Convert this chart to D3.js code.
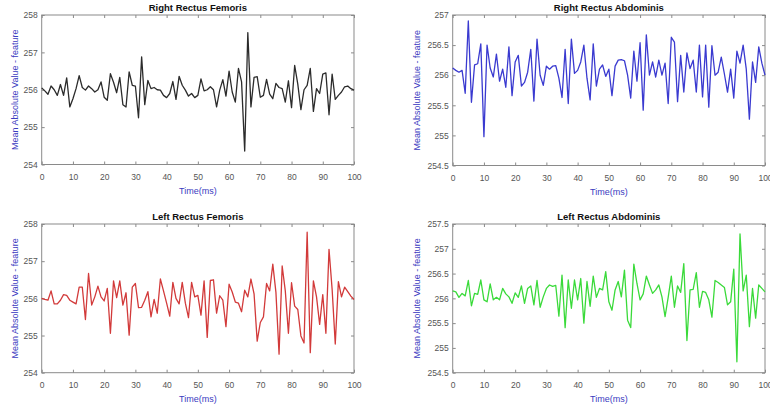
<!DOCTYPE html>
<html>
<head>
<meta charset="utf-8">
<script src="https://cdn.jsdelivr.net/npm/d3@7"></script>
<style>
    body { margin: 0; background: #fff; }
    svg { display: block; font-family: "Liberation Sans", Arial, sans-serif; }
    .axis path { display: none; }
    .axis line { stroke: #8a8a8a; }
    .axis text { fill: #555; font-size: 8.5px; }
</style>
</head>
<body>
<svg id="chart" width="770" height="409"></svg>
<script>

// x axis (time in ms), one sample per ms
const xTicks = [0, 10, 20, 30, 40, 50, 60, 70, 80, 90, 100];

// tick labels for the y axes
const yTicksFemoris = [254, 255, 256, 257, 258];
const yTicksRightAbd = [254.5, 255, 255.5, 256, 256.5, 257];
const yTicksLeftAbd = [254.5, 255, 255.5, 256, 256.5, 257, 257.5];

// series values (t = 0..100)
const rightFemoris = [
    256.05, 255.97, 255.88, 256.1, 256.0, 255.85, 256.14, 255.85, 256.32, 255.54,
    255.76, 256.03, 256.38, 256.06, 255.99, 256.1, 256.03, 255.94, 256.0, 256.21,
    255.8, 255.72, 256.43, 256.2, 255.92, 256.33, 255.6, 255.54, 256.48, 256.12,
    256.1, 255.25, 256.88, 255.6, 256.25, 256.03, 256.06, 256.0, 255.99, 255.85,
    255.79, 255.9, 256.22, 255.74, 256.36, 256.12, 255.99, 255.83, 255.9, 255.79,
    255.85, 256.29, 255.97, 256.0, 256.08, 256.0, 255.54, 255.99, 256.27, 255.83,
    256.5, 255.94, 255.67, 256.57, 256.21, 254.36, 257.53, 255.54, 256.33, 256.35,
    255.8, 255.85, 256.28, 255.88, 255.76, 256.17, 256.06, 256.03, 255.67, 256.24,
    255.52, 256.65, 256.15, 255.47, 256.0, 256.12, 256.57, 255.42, 256.03, 255.9,
    256.42, 256.45, 255.33, 256.42, 255.74, 255.85, 255.94, 256.08, 256.1, 256.03,
    255.99
];

const rightAbdominis = [
    256.12, 256.08, 256.05, 256.08, 255.7, 256.9, 255.55, 256.17, 256.19, 256.52,
    254.98, 256.5, 256.12, 255.97, 256.35, 255.9, 256.1, 255.8, 256.47, 255.66,
    256.22, 256.33, 255.82, 255.88, 256.05, 256.43, 255.57, 256.6, 256.0, 255.83,
    256.15, 256.1, 256.15, 256.16, 255.95, 255.63, 256.43, 255.53, 256.6, 256.03,
    256.08, 256.22, 256.5, 255.95, 255.59, 256.52, 255.82, 256.1, 256.17, 255.98,
    256.1, 255.66, 256.15, 256.25, 256.26, 256.24, 256.0, 255.62, 256.4, 255.9,
    256.54, 255.42, 256.67, 256.0, 256.22, 255.97, 256.25, 256.0, 256.2, 255.53,
    256.63, 256.55, 255.56, 256.33, 255.72, 256.37, 256.11, 256.25, 255.72, 256.5,
    255.64, 256.5, 255.47, 256.49, 256.0, 256.05, 256.3, 256.02, 255.72, 256.1,
    255.62, 256.4, 256.2, 256.5, 256.1, 255.27, 256.22, 255.88, 256.47, 256.2,
    256.0
];

const leftFemoris = [
    256.0, 255.97, 255.95, 256.2, 255.85, 255.85, 255.95, 256.1, 256.08, 255.95,
    255.9, 255.85, 256.3, 256.3, 255.43, 256.67, 255.82, 256.04, 256.33, 256.04,
    255.93, 256.27, 255.06, 256.47, 256.02, 256.47, 255.82, 256.15, 255.01, 256.3,
    256.4, 255.75, 255.76, 255.95, 256.18, 255.5, 255.97, 255.6, 256.52, 256.2,
    255.87, 255.52, 256.43, 256.0, 255.85, 256.43, 255.87, 255.48, 256.43, 256.04,
    256.08, 255.55, 256.47, 254.95, 256.48, 256.5, 255.6, 256.07, 255.95, 255.24,
    256.38, 256.17, 255.9, 255.87, 255.64, 256.22, 256.04, 256.52, 256.12, 254.85,
    255.35, 255.5, 256.4, 256.2, 256.92, 256.16, 254.5, 256.87, 256.2, 255.06,
    256.42, 255.79, 255.7, 254.99, 254.8, 257.78, 254.54, 256.47, 256.04, 255.3,
    256.1, 255.06, 257.32, 256.24, 254.77, 256.45, 256.04, 256.3, 256.18, 256.06,
    255.97
];

const leftAbdominis = [
    256.15, 256.13, 256.02, 256.1, 256.05, 256.36, 255.85, 256.1, 256.08, 256.37,
    255.97, 255.93, 256.29, 255.97, 256.02, 255.97, 256.2, 256.09, 256.03, 255.9,
    256.11, 256.02, 256.25, 255.9, 256.2, 256.25, 255.87, 256.36, 255.82, 256.03,
    256.2, 256.27, 256.24, 256.26, 255.64, 256.47, 255.41, 256.37, 255.8, 256.37,
    255.97, 256.4, 255.5, 256.34, 255.84, 256.45, 256.02, 256.2, 256.17, 256.54,
    255.93, 255.76, 256.17, 256.34, 256.03, 256.57, 255.56, 255.41, 256.69, 256.3,
    255.97, 256.09, 256.45, 256.27, 256.1, 256.17, 256.27, 256.03, 255.63, 256.02,
    256.45, 255.82, 256.25, 256.12, 256.7, 255.15, 256.17, 256.18, 256.52, 255.82,
    256.14, 256.12, 255.97, 255.62, 256.36, 256.32, 256.27, 256.22, 255.87, 255.93,
    256.59, 254.72, 257.3, 256.15, 256.47, 255.43, 256.2, 255.6, 256.27, 256.2,
    256.13
];

const titles = ["Right Rectus Femoris", "Right Rectus Abdominis", "Left Rectus Femoris", "Left Rectus Abdominis"];

// panel boxes (pixels) and line colours
const panels = [
    { title: titles[0], values: rightFemoris,   yTicks: yTicksFemoris,  color: "#2b2b2b", left: 41.7,  right: 354, top: 15,  bottom: 164.5, ylabX: 15 },
    { title: titles[1], values: rightAbdominis, yTicks: yTicksRightAbd, color: "#3a3ad0", left: 452.7, right: 765, top: 15,  bottom: 165.5, ylabX: 417 },
    { title: titles[2], values: leftFemoris,    yTicks: yTicksFemoris,  color: "#d23a3a", left: 41.7,  right: 354, top: 224, bottom: 372.7, ylabX: 15 },
    { title: titles[3], values: leftAbdominis,  yTicks: yTicksLeftAbd,  color: "#3ada3a", left: 452.7, right: 765, top: 224, bottom: 372.7, ylabX: 417 }
];

const svg = d3.select('#chart');
const labelBlue = "#3b3bbf";

function drawPanel(p) {
    let w = p.right - p.left;
    let h = p.bottom - p.top;

    let x = d3.scaleLinear().domain([0, 100]).range([0, w]);
    let y = d3.scaleLinear().domain(d3.extent(p.yTicks)).range([h, 0]);

    let g = svg.append('g').attr('transform', 'translate(' + p.left + ',' + p.top + ')');

    // ticks point inward on all four sides, like matlab with box on
    g.append('g').attr('class', 'axis')
        .attr('transform', 'translate(0,' + h + ')')
        .call(d3.axisBottom(x).tickValues(xTicks).tickSizeInner(-3).tickSizeOuter(0).tickPadding(9));
    g.append('g').attr('class', 'axis')
        .call(d3.axisTop(x).tickValues(xTicks).tickSizeInner(-3).tickSizeOuter(0).tickFormat(''));
    g.append('g').attr('class', 'axis')
        .call(d3.axisLeft(y).tickValues(p.yTicks).tickSizeInner(-3).tickSizeOuter(0).tickPadding(4).tickFormat(d3.format('')));
    g.append('g').attr('class', 'axis')
        .attr('transform', 'translate(' + w + ',0)')
        .call(d3.axisRight(y).tickValues(p.yTicks).tickSizeInner(-3).tickSizeOuter(0).tickFormat(''));

    g.append('rect')
        .attr('width', w)
        .attr('height', h)
        .style('fill', 'none')
        .style('stroke', '#8a8a8a')
        .style('stroke-width', 1);

    let line = d3.line()
        .x((d, i) => x(i))
        .y(d => y(d));

    g.append('path')
        .datum(p.values)
        .attr('d', line)
        .style('fill', 'none')
        .style('stroke', p.color)
        .style('stroke-width', 1.3)
        .style('stroke-linejoin', 'round');

    // title
    svg.append('text')
        .attr('x', (p.left + p.right) / 2)
        .attr('y', p.top - 4.5)
        .attr('text-anchor', 'middle')
        .style('font-size', '9.5px')
        .style('font-weight', 'bold')
        .style('fill', '#111')
        .text(p.title);

    // x label
    svg.append('text')
        .attr('x', (p.left + p.right) / 2)
        .attr('y', p.bottom + 29)
        .attr('text-anchor', 'middle')
        .style('font-size', '9px')
        .style('fill', labelBlue)
        .text('Time(ms)');

    // y label
    svg.append('text')
        .attr('transform', 'translate(' + p.ylabX + ',' + ((p.top + p.bottom) / 2) + ') rotate(-90)')
        .attr('text-anchor', 'middle')
        .attr('dy', '0.35em')
        .style('font-size', '9px')
        .style('fill', labelBlue)
        .text('Mean Absolute Value - feature');
}

panels.forEach(drawPanel);

</script>
</body>
</html>
